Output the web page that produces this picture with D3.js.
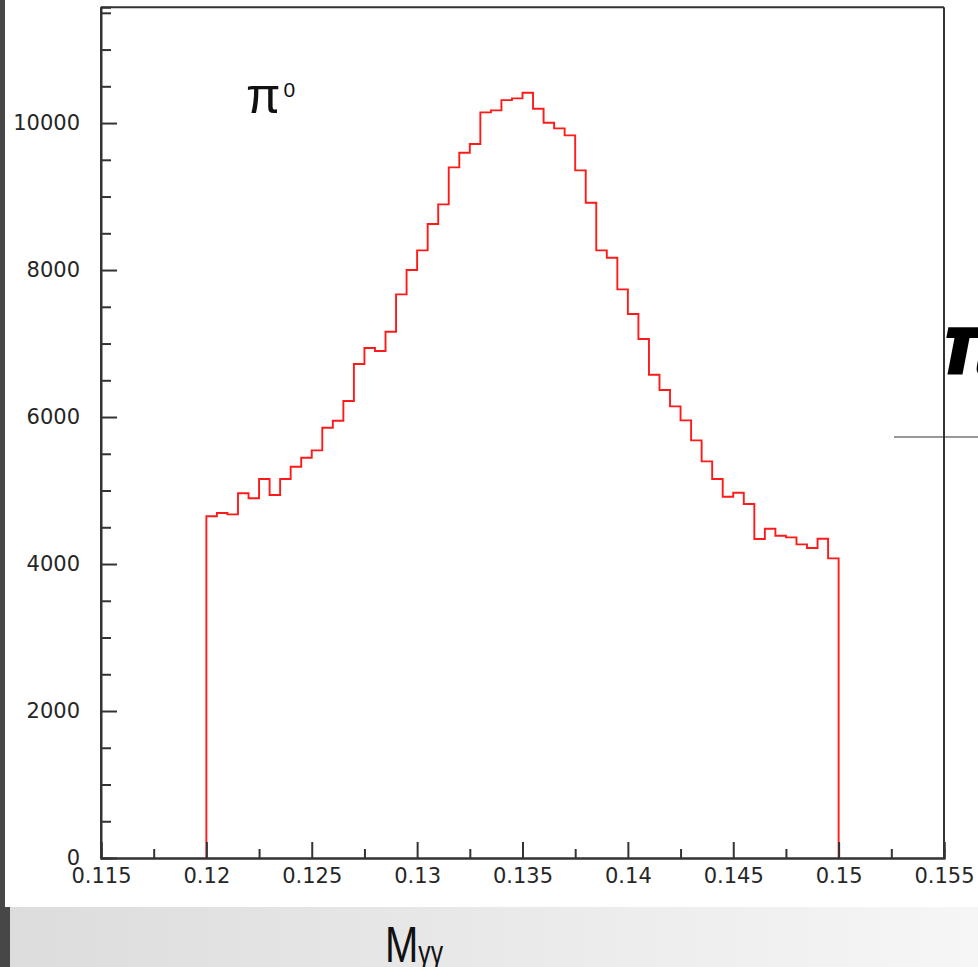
<!DOCTYPE html>
<html>
<head>
<meta charset="utf-8">
<script src="https://cdn.jsdelivr.net/npm/d3@7"></script>
<style>
  body { margin: 0; background: white; }
  svg { display: block; }
</style>
</head>
<body>
<div id="chart"></div>
<script>
// histogram: 60 bins of 0.0005 from 0.12 to 0.15
const binStart = 0.12;
const binWidth = 0.0005;
const counts = [
  4649, 4694, 4676, 4962, 4894, 5156, 4939, 5156, 5324, 5447,
  5547, 5855, 5950, 6218, 6721, 6939, 6898, 7161, 7669, 8000,
  8267, 8626, 8893, 9397, 9596, 9714, 10145, 10172, 10312, 10336,
  10412, 10194, 10004, 9927, 9832, 9356, 8915, 8267, 8167, 7737,
  7401, 7061, 6576, 6367, 6145, 5955, 5683, 5397, 5156, 4916,
  4970, 4816, 4340, 4480, 4385, 4363, 4268, 4218, 4344, 4077
];
const xTicks = [0.115, 0.12, 0.125, 0.13, 0.135, 0.14, 0.145, 0.15, 0.155];
const xMinor = [0.1175, 0.1225, 0.1275, 0.1325, 0.1375, 0.1425, 0.1475, 0.1525];
const yTicks = [0, 2000, 4000, 6000, 8000, 10000];
const yMinor = [500, 1000, 1500, 2500, 3000, 3500, 4500, 5000, 5500, 6500, 7000, 7500,
                8500, 9000, 9500, 10500, 11000, 11500];

const W = 978, H = 967;
const svg = d3.select("#chart").append("svg")
  .attr("width", W)
  .attr("height", H);

// slide background bits
const defs = svg.append("defs");
const grad = defs.append("linearGradient").attr("id", "band");
grad.append("stop").attr("offset", "0%").attr("stop-color", "#dcdcdc");
grad.append("stop").attr("offset", "100%").attr("stop-color", "#f6f6f6");

svg.append("rect").attr("x", 0).attr("y", 0).attr("width", W).attr("height", H).attr("fill", "white");
svg.append("rect").attr("x", 0).attr("y", 907).attr("width", W).attr("height", H - 907).attr("fill", "url(#band)");
svg.append("rect").attr("x", 0).attr("y", 0).attr("width", 5).attr("height", H).attr("fill", "#474747");
svg.append("rect").attr("x", 0).attr("y", 907).attr("width", 10).attr("height", H - 907).attr("fill", "#474747");

const x = d3.scaleLinear().domain([0.115, 0.155]).range([101, 944]);
const y = d3.scaleLinear().domain([0, 11575]).range([858, 7.3]);

// histogram outline
const pts = [[binStart, 0]];
counts.forEach((c, i) => pts.push([binStart + i * binWidth, c]));
pts.push([binStart + counts.length * binWidth, counts[counts.length - 1]]);
pts.push([binStart + counts.length * binWidth, 0]);

const line = d3.line()
  .x(d => x(d[0]))
  .y(d => y(d[1]))
  .curve(d3.curveStepAfter);

svg.append("path")
  .attr("d", line(pts))
  .attr("fill", "none")
  .attr("stroke", "#ff1a1a")
  .attr("stroke-width", 1.9);

// frame
const frame = svg.append("g").attr("stroke", "#333").attr("stroke-width", 2);
frame.append("line").attr("x1", x(0.115)).attr("x2", x(0.155)).attr("y1", y.range()[1]).attr("y2", y.range()[1]);
frame.append("line").attr("x1", x(0.155)).attr("x2", x(0.155)).attr("y1", y.range()[1]).attr("y2", y(0));

const tickFont = g => g
  .attr("font-family", "DejaVu Sans")
  .attr("font-size", 21)
  .call(g => g.selectAll("text").attr("fill", "#262626"))
  .call(g => g.selectAll("line").attr("stroke", "#333").attr("stroke-width", 2))
  .call(g => g.select(".domain").attr("stroke", "#333").attr("stroke-width", 2));

// minor ticks
svg.append("g")
  .attr("transform", `translate(0,${y(0)})`)
  .call(d3.axisBottom(x).tickValues(xMinor).tickSize(-9).tickFormat(""))
  .call(tickFont);
svg.append("g")
  .attr("transform", `translate(${x(0.115)},0)`)
  .call(d3.axisLeft(y).tickValues(yMinor).tickSize(-10).tickFormat(""))
  .call(tickFont);

// major ticks
svg.append("g")
  .attr("transform", `translate(0,${y(0)})`)
  .call(d3.axisBottom(x).tickValues(xTicks).tickSize(-16).tickPadding(10).tickFormat(d3.format("~g")))
  .call(tickFont);
svg.append("g")
  .attr("transform", `translate(${x(0.115)},0)`)
  .call(d3.axisLeft(y).tickValues(yTicks).tickSize(-16).tickPadding(21).tickFormat(d => d))
  .call(tickFont)
  .call(g => g.select(".domain").attr("d", `M0,${y(0)}V${y.range()[1]}`));

// labels
const pi = svg.append("text")
  .attr("x", 246)
  .attr("y", 113)
  .attr("font-family", "Liberation Sans")
  .attr("font-size", 50)
  .attr("fill", "#111");
pi.append("tspan").text("π");
pi.append("tspan").attr("font-size", 21).attr("dy", -16).attr("dx", 3).text("0");

const mlab = svg.append("text")
  .attr("transform", "translate(385,962) scale(0.8,1)")
  .attr("font-family", "Liberation Sans")
  .attr("font-size", 50)
  .attr("fill", "#111");
mlab.append("tspan").text("M");
mlab.append("tspan").attr("font-size", 31).attr("dy", 1).text("γγ");

// cut-off slide decoration on the right
svg.append("line")
  .attr("x1", 894).attr("x2", W).attr("y1", 437).attr("y2", 437)
  .attr("stroke", "#333").attr("stroke-width", 1.2);
svg.append("text")
  .attr("x", 940)
  .attr("y", 375)
  .attr("font-family", "DejaVu Sans")
  .attr("font-weight", "bold")
  .attr("font-style", "italic")
  .attr("font-size", 86)
  .attr("fill", "#000")
  .text("π");
</script>
</body>
</html>
